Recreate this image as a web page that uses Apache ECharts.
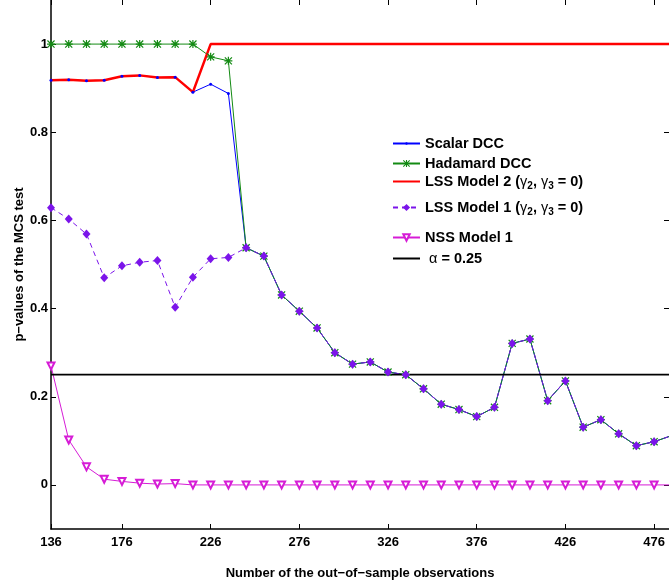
<!DOCTYPE html>
<html>
<head>
<meta charset="utf-8">
<script src="https://cdn.jsdelivr.net/npm/echarts@6/dist/echarts.min.js"></script>
<style>
  html, body { margin: 0; padding: 0; background: #fff; }
  #chart { width: 669px; height: 585px; }
</style>
</head>
<body>
<div id="chart"></div>
<script>
// out-of-sample sizes
var obs = [136, 146, 156, 166, 176, 186, 196, 206, 216, 226, 236, 246, 256, 266, 276, 286, 296, 306,
           316, 326, 336, 346, 356, 366, 376, 386, 396, 406, 416, 426, 436, 446, 456, 466, 476, 486];
var xTicks = [136, 176, 226, 276, 326, 376, 426, 476];
var yTicks = [0, 0.2, 0.4, 0.6, 0.8, 1];

var scalarDCC = [0.918, 0.919, 0.917, 0.918, 0.927, 0.929, 0.924, 0.925, 0.891, 0.909, 0.888,
                 0.538, 0.519, 0.431, 0.394, 0.356, 0.300, 0.274, 0.279, 0.256, 0.250, 0.218, 0.183,
                 0.171, 0.155, 0.176, 0.321, 0.331, 0.191, 0.236, 0.131, 0.148, 0.116, 0.089, 0.098, 0.112];
var hadamardDCC = [1, 1, 1, 1, 1, 1, 1, 1, 1, 0.971, 0.962,
                 0.538, 0.519, 0.431, 0.394, 0.356, 0.300, 0.274, 0.279, 0.256, 0.250, 0.218, 0.183,
                 0.171, 0.155, 0.176, 0.321, 0.331, 0.191, 0.236, 0.131, 0.148, 0.116, 0.089, 0.098, 0.112];
var lssModel2 = [0.918, 0.919, 0.917, 0.918, 0.927, 0.929, 0.924, 0.925, 0.891, 1, 1,
                 1, 1, 1, 1, 1, 1, 1, 1, 1, 1, 1, 1, 1, 1, 1, 1, 1, 1, 1, 1, 1, 1, 1, 1, 1];
var lssModel1 = [0.629, 0.603, 0.569, 0.470, 0.497, 0.505, 0.509, 0.403, 0.471, 0.513, 0.516,
                 0.538, 0.519, 0.431, 0.394, 0.356, 0.300, 0.274, 0.279, 0.256, 0.250, 0.218, 0.183,
                 0.171, 0.155, 0.176, 0.321, 0.331, 0.191, 0.236, 0.131, 0.148, 0.116, 0.089, 0.098, 0.112];
var nssModel1 = [0.270, 0.102, 0.041, 0.013, 0.008, 0.004, 0.002, 0.003, 0, 0, 0,
                 0, 0, 0, 0, 0, 0, 0, 0, 0, 0, 0, 0, 0, 0, 0, 0, 0, 0, 0, 0, 0, 0, 0, 0, 0];
var alpha = 0.25;

var names = ['Scalar DCC', 'Hadamard DCC', 'LSS Model 2 (γ2, γ3 = 0)', 'LSS Model 1 (γ2, γ3 = 0)', 'NSS Model 1', 'α = 0.25'];
var legendLabels = {
    'LSS Model 2 (γ2, γ3 = 0)': 'LSS Model 2 ({g|γ}{s|2}, {g|γ}{s|3} = 0)',
    'LSS Model 1 (γ2, γ3 = 0)': 'LSS Model 1 ({g|γ}{s|2}, {g|γ}{s|3} = 0)',
    'α = 0.25': ' {g|α} = 0.25'
};
var legendTops = [131, 151, 169, 195, 225, 246];
var legendIconH = [3, 9, 1, 9, 8, 1];

var font = 'Liberation Sans, Arial, sans-serif';
var asterisk = 'path://M0,8.5L20,8.5L20,11.5L0,11.5Z M8.5,0L11.5,0L11.5,20L8.5,20Z M2.2,0.1L19.9,17.8L17.8,19.9L0.1,2.2Z M17.8,0.1L19.9,2.2L2.2,19.9L0.1,17.8Z';

function pairs(vals) {
    return obs.map(function (x, i) { return [x, vals[i]]; });
}

var chart = echarts.init(document.getElementById('chart'));

var legends = names.map(function (n, i) {
    return {
        left: 387,
        top: legendTops[i],
        orient: 'vertical',
        itemWidth: 27,
        itemHeight: legendIconH[i],
        selectedMode: false,
        data: [n],
        formatter: function (name) { return legendLabels[name] || name; },
        textStyle: {
            fontFamily: font,
            fontSize: 14.5,
            fontWeight: 'bold',
            color: '#000',
            rich: {
                g: { fontFamily: font, fontSize: 14.5, fontWeight: 'normal', color: '#000' },
                s: { fontFamily: font, fontSize: 10, fontWeight: 'bold', color: '#000', padding: [9, 0, 0, 0] }
            }
        }
    };
});

var option = {
    animation: false,
    backgroundColor: '#fff',
    grid: { left: 51, right: 0, top: 0, bottom: 56 },
    legend: legends,
    xAxis: [{
        type: 'value',
        position: 'bottom',
        min: 136,
        max: 484.4,
        name: 'Number of the out−of−sample observations',
        nameLocation: 'middle',
        nameGap: 38,
        nameTextStyle: { fontFamily: font, fontSize: 13, fontWeight: 'bold', color: '#000' },
        axisLine: { onZero: false, lineStyle: { color: '#000', width: 1.5 } },
        axisTick: { inside: true, length: 5, customValues: xTicks, lineStyle: { color: '#000' } },
        axisLabel: { customValues: xTicks, margin: 7, fontFamily: font, fontSize: 13, fontWeight: 'bold', color: '#000' },
        splitLine: { show: false }
    }, {
        type: 'value',
        position: 'top',
        min: 136,
        max: 484.4,
        axisLine: { show: false, onZero: false },
        axisTick: { show: true, inside: true, length: 5, customValues: xTicks, lineStyle: { color: '#000' } },
        axisLabel: { show: false },
        splitLine: { show: false }
    }],
    yAxis: [{
        type: 'value',
        position: 'left',
        min: -0.1,
        max: 1.1,
        name: 'p−values of the MCS test',
        nameLocation: 'middle',
        nameGap: 25,
        nameMoveOverlap: false,
        nameTextStyle: { fontFamily: font, fontSize: 13, fontWeight: 'bold', color: '#000' },
        axisLine: { show: true, onZero: false, lineStyle: { color: '#000', width: 1.5 } },
        axisTick: { show: true, inside: true, length: 5, customValues: yTicks, lineStyle: { color: '#000' } },
        axisLabel: {
            customValues: yTicks, margin: 3, fontFamily: font, fontSize: 13, fontWeight: 'bold', color: '#000',
            formatter: function (v) { return String(Math.round(v * 10) / 10); }
        },
        splitLine: { show: false }
    }, {
        type: 'value',
        position: 'right',
        min: -0.1,
        max: 1.1,
        axisLine: { show: false, onZero: false },
        axisTick: { show: true, inside: true, length: 5, customValues: yTicks, lineStyle: { color: '#000' } },
        axisLabel: { show: false },
        splitLine: { show: false }
    }],
    series: [{
        name: names[0],
        type: 'line',
        data: pairs(scalarDCC),
        symbol: 'circle',
        symbolSize: 3,
        itemStyle: { color: '#0000ff' },
        lineStyle: { color: '#0000ff', width: 1 }
    }, {
        name: names[1],
        type: 'line',
        data: pairs(hadamardDCC),
        symbol: asterisk,
        symbolSize: 8,
        itemStyle: { color: '#138a13' },
        lineStyle: { color: '#138a13', width: 1 }
    }, {
        name: names[2],
        type: 'line',
        data: pairs(lssModel2),
        showSymbol: false,
        symbol: 'none',
        itemStyle: { color: '#ff0000' },
        lineStyle: { color: '#ff0000', width: 2.5 }
    }, {
        name: names[3],
        type: 'line',
        data: pairs(lssModel1),
        symbol: 'diamond',
        symbolSize: [8, 9],
        itemStyle: { color: '#7b14ea' },
        lineStyle: { color: '#7b14ea', width: 1, type: [5, 4] }
    }, {
        name: names[4],
        type: 'line',
        data: pairs(nssModel1),
        symbol: 'emptyTriangle',
        symbolRotate: 180,
        symbolSize: 7,
        itemStyle: { color: '#d61cd6', borderWidth: 1 },
        lineStyle: { color: '#d61cd6', width: 1 }
    }, {
        name: names[5],
        type: 'line',
        data: obs.map(function (x) { return [x, alpha]; }),
        showSymbol: false,
        symbol: 'none',
        itemStyle: { color: '#000' },
        lineStyle: { color: '#000', width: 1.8 }
    }]
};

chart.setOption(option);
</script>
</body>
</html>
